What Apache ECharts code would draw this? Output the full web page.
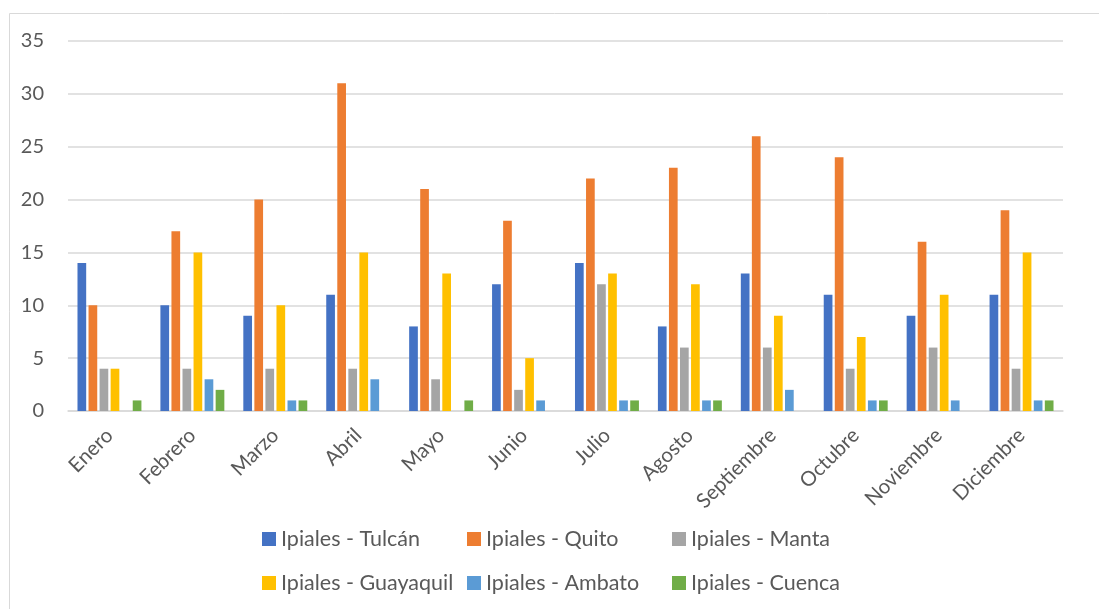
<!DOCTYPE html>
<html>
<head>
<meta charset="utf-8" />
<style>
  html, body { margin: 0; padding: 0; background: #ffffff; }
  #main { width: 1099px; height: 609px; }
</style>
</head>
<body>
<div id="main"></div>
<script src="https://cdn.jsdelivr.net/npm/echarts@6/dist/echarts.min.js"></script>
<script>
// data
const months = ['Enero', 'Febrero', 'Marzo', 'Abril', 'Mayo', 'Junio', 'Julio', 'Agosto', 'Septiembre', 'Octubre', 'Noviembre', 'Diciembre'];
const tulcan    = [14, 10, 9, 11, 8, 12, 14, 8, 13, 11, 9, 11];
const quito     = [10, 17, 20, 31, 21, 18, 22, 23, 26, 24, 16, 19];
const manta     = [4, 4, 4, 4, 3, 2, 12, 6, 6, 4, 6, 4];
const guayaquil = [4, 15, 10, 15, 13, 5, 13, 12, 9, 7, 11, 15];
const ambato    = [0, 3, 1, 3, 0, 1, 1, 1, 2, 1, 1, 1];
const cuenca    = [1, 2, 1, 0, 1, 0, 1, 1, 0, 1, 0, 1];

const seriesNames = ['Ipiales - Tulcán', 'Ipiales - Quito', 'Ipiales - Manta', 'Ipiales - Guayaquil', 'Ipiales - Ambato', 'Ipiales - Cuenca'];
const seriesData = [tulcan, quito, manta, guayaquil, ambato, cuenca];
const colors = ['#4472C4', '#ED7D31', '#A5A5A5', '#FFC000', '#5B9BD5', '#70AD47'];

const txt = '#595959';
const font = 'Lato';

const chart = echarts.init(document.getElementById('main'));
chart.setOption({
  animation: false,
  color: colors,
  textStyle: { fontFamily: font },
  graphic: [{
    type: 'rect',
    shape: { x: 9.5, y: 13.5, width: 1200, height: 700 },
    style: { fill: 'none', stroke: '#D9D9D9', lineWidth: 1 }
  }],
  grid: { left: 68, right: 36, top: 41, bottom: 198 },
  legend: {
    left: 262, top: 522, width: 640,
    padding: 0,
    itemWidth: 14, itemHeight: 14, itemGap: 10,
    icon: 'rect',
    textStyle: { color: txt, fontSize: 21.5, fontFamily: font, width: 176, lineHeight: 34, padding: [0, 0, 0, 0] },
    data: seriesNames
  },
  xAxis: {
    type: 'category',
    data: months,
    axisLine: { lineStyle: { color: '#D9D9D9', width: 1.5 } },
    axisTick: { show: false },
    axisLabel: { rotate: 45, color: txt, fontSize: 20.5, fontFamily: font, margin: 21, interval: 0 }
  },
  yAxis: {
    type: 'value',
    min: 0, max: 35, interval: 5,
    axisLine: { show: false },
    axisTick: { show: false },
    splitLine: { lineStyle: { color: '#D9D9D9', width: 1.5 } },
    axisLabel: { color: txt, fontSize: 20, fontFamily: font, margin: 24 }
  },
  series: seriesNames.map((name, i) => ({
    name: name,
    type: 'bar',
    data: seriesData[i],
    barWidth: 8.7,
    barGap: '27%'
  }))
});
</script>
</body>
</html>
